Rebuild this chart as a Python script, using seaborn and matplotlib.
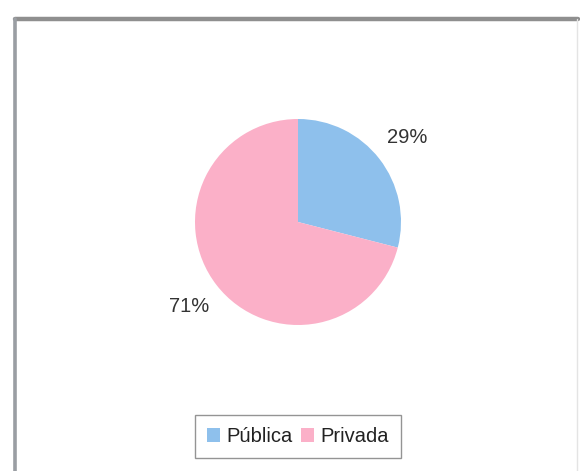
import matplotlib
matplotlib.use("Agg")
import matplotlib.pyplot as plt
import seaborn as sns
import numpy as np
from matplotlib.lines import Line2D
from matplotlib.patches import Patch

categories = ["Pública", "Privada"]
values = [29, 71]
pct_labels = ["29%", "71%"]
colors = ["#8EC0EC", "#FBB0C8"]

sns.set_theme(style="white")
plt.rcParams['font.family'] = ['Liberation Sans', 'DejaVu Sans']

W, H = 580, 471
fig = plt.figure(figsize=(W/100, H/100), dpi=100)
fig.patch.set_facecolor("white")

# frame lines
fig.add_artist(Line2D([15/W, 578/W], [1-18.5/H, 1-18.5/H], color="#8f8f8f", lw=3.2))
fig.add_artist(Line2D([15/W, 15/W], [0, 1-18.5/H], color="#9a9ea3", lw=2.6))
fig.add_artist(Line2D([577/W, 577/W], [0, 1-18.5/H], color="#e4e4e4", lw=1.0))

cx, cy, r = 298, 222, 103
ax = fig.add_axes([(cx-r)/W, 1-(cy+r)/H, 2*r/W, 2*r/H])
wedges, texts = ax.pie(values, colors=colors, startangle=90, counterclock=False,
                       radius=1, wedgeprops=dict(linewidth=0))
for w, lab in zip(wedges, pct_labels):
    ang = np.deg2rad((w.theta1 + w.theta2) / 2)
    ax.text(1.34*np.cos(ang), 1.34*np.sin(ang), lab, ha="center", va="center",
            fontsize=14.5, color="#333333", clip_on=False)
ax.set_xlim(-1, 1)
ax.set_ylim(-1, 1)
ax.set_aspect("equal")
ax.axis("off")

handles = [Patch(facecolor=c, edgecolor="none") for c in colors]
leg = fig.legend(handles, categories, loc="center", bbox_to_anchor=(298/W, 1-436.5/H),
                 ncol=2, frameon=True, fancybox=False, edgecolor="#7a7a7a",
                 fontsize=14.5, handlelength=0.65, handleheight=0.65, handletextpad=0.3,
                 columnspacing=0.45, borderpad=0.6, labelcolor="#222222")
leg.get_frame().set_linewidth(1.0)

fig.savefig("out.png", dpi=100)
